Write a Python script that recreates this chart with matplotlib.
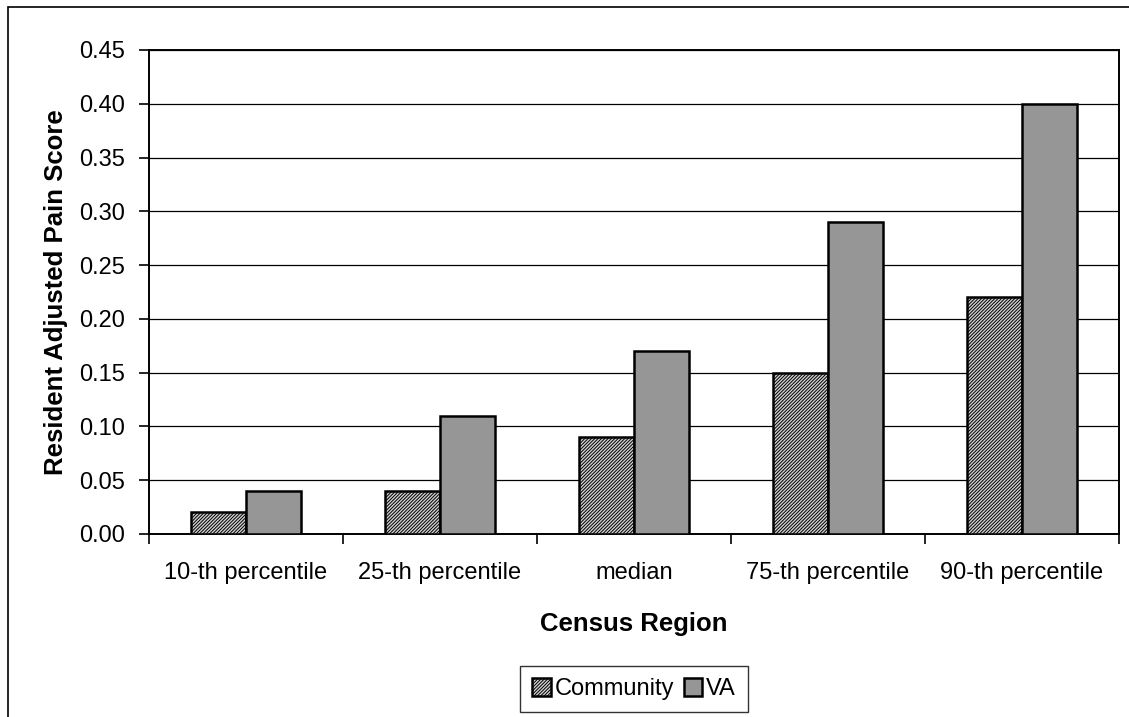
import numpy as np
import matplotlib.pyplot as plt
from matplotlib.patches import Rectangle

plt.rcParams['font.family'] = ['Liberation Sans', 'DejaVu Sans']
plt.rcParams['hatch.color'] = '#404040'
plt.rcParams['hatch.linewidth'] = 0.7

categories = ['10-th percentile', '25-th percentile', 'median',
              '75-th percentile', '90-th percentile']
community = [0.02, 0.04, 0.09, 0.15, 0.22]
va = [0.04, 0.11, 0.17, 0.29, 0.40]

fig = plt.figure(figsize=(11.29, 7.17), dpi=100)

# outer chart frame, cut off at right and bottom
fig.patches.append(Rectangle((8 / 1129, -0.1), 1.2, 1 - 7 / 717 + 0.1,
                             transform=fig.transFigure, fill=False,
                             edgecolor='black', linewidth=1.2))

ax = fig.add_axes([149 / 1129, 1 - 534 / 717, 970 / 1129, 484 / 717])

x = np.arange(len(categories))
w = 0.285
ax.bar(x - w / 2, community, w, facecolor='#d0d0d0', edgecolor='black',
       linewidth=1.8, hatch='//////////', label='Community', zorder=3)
ax.bar(x + w / 2, va, w, facecolor='#969696', edgecolor='black',
       linewidth=1.8, label='VA', zorder=3)

ax.set_xlim(-0.5, len(categories) - 0.5)
ax.set_ylim(0, 0.45)
ax.set_yticks(np.arange(0, 0.451, 0.05))
ax.set_yticklabels([f'{v:.2f}' for v in np.arange(0, 0.451, 0.05)])
ax.yaxis.grid(True, color='black', linewidth=0.9, zorder=0)
ax.set_axisbelow(True)

ax.set_xticks(x)
ax.set_xticklabels(categories)
ax.set_xticks(np.arange(-0.5, len(categories)), minor=True)
ax.tick_params(axis='x', which='major', length=0, pad=20, labelsize=17)
ax.tick_params(axis='x', which='minor', length=7, width=1.2)
ax.tick_params(axis='y', length=7, width=1.2, labelsize=17, pad=10)

for s in ax.spines.values():
    s.set_linewidth(1.4)

ax.set_ylabel('Resident Adjusted Pain Score', fontsize=18.5, fontweight='bold',
              labelpad=8)
ax.set_xlabel('Census Region', fontsize=18.5, fontweight='bold', labelpad=20)

leg = ax.legend(loc='center', bbox_to_anchor=(0.5, -0.32), ncol=2,
                fontsize=17, frameon=True, fancybox=False, edgecolor='black',
                handlelength=0.8, handleheight=0.8, handletextpad=0.15,
                columnspacing=0.4, borderpad=0.5)
leg.get_frame().set_linewidth(1)

fig.savefig('out.png', dpi=100)
